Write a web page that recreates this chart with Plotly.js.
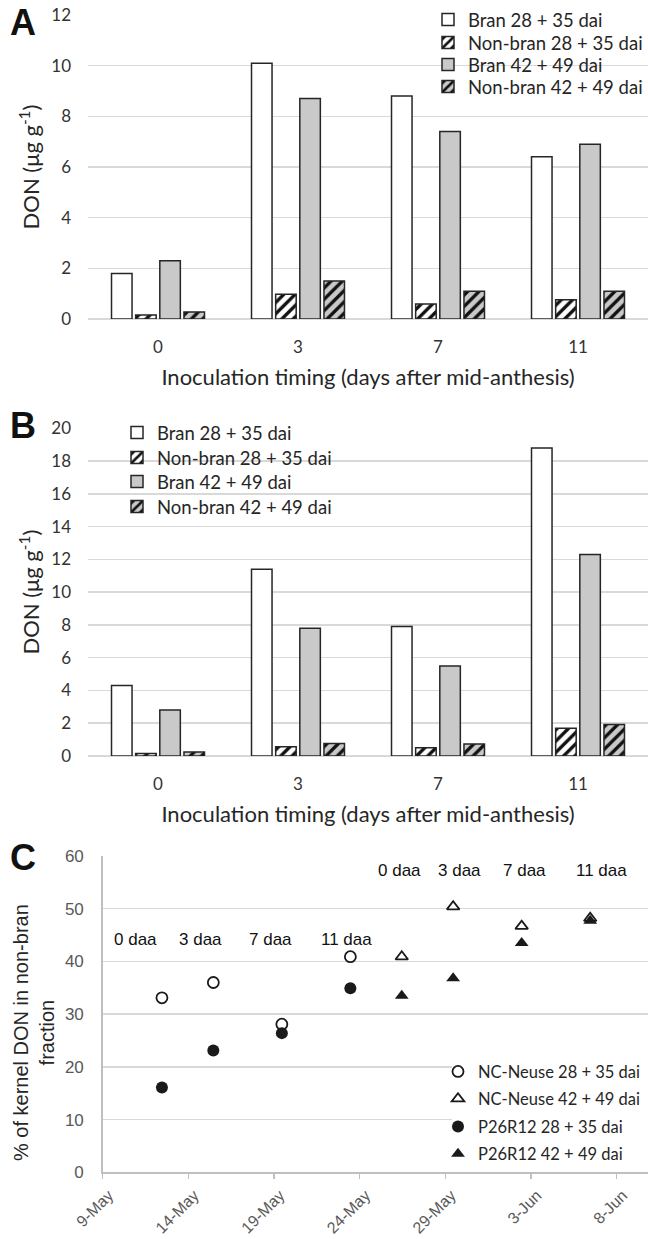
<!DOCTYPE html>
<html><head><meta charset="utf-8">
<script src="https://cdn.plot.ly/plotly-3.0.1.min.js"></script>
<style>html,body{margin:0;padding:0;background:#fff}#chart{width:648px;height:1239px}</style>
</head><body><div id="chart"></div>
<script>
const W = 648, H = 1239;

// ---------- data: panels A and B ----------
const timingLabels = ['0', '3', '7', '11'];
const barNames = ['Bran 28 + 35 dai', 'Non-bran 28 + 35 dai', 'Bran 42 + 49 dai', 'Non-bran 42 + 49 dai'];
const aBran28    = [1.8, 10.1, 8.8, 6.4];
const aNonBran28 = [0.16, 0.98, 0.59, 0.76];
const aBran42    = [2.3, 8.7, 7.4, 6.9];
const aNonBran42 = [0.28, 1.5, 1.1, 1.1];
const bBran28    = [4.3, 11.4, 7.9, 18.8];
const bNonBran28 = [0.16, 0.57, 0.5, 1.7];
const bBran42    = [2.8, 7.8, 5.5, 12.3];
const bNonBran42 = [0.24, 0.77, 0.73, 1.93];

// ---------- data: panel C ----------
const cNames = ['NC-Neuse 28 + 35 dai', 'NC-Neuse 42 + 49 dai', 'P26R12 28 + 35 dai', 'P26R12 42 + 49 dai'];
const cDates28 = ['2014-05-12 11:00', '2014-05-15 11:00', '2014-05-19 11:00', '2014-05-23 11:00'];
const cDates42 = ['2014-05-26 11:00', '2014-05-29 11:00', '2014-06-02 11:00', '2014-06-06 11:00'];
const cNCNeuse28 = [33.1, 36.0, 28.1, 40.9];
const cNCNeuse42 = [40.9, 50.4, 46.7, 48.2];
const cP26R12_28 = [16.1, 23.1, 26.4, 34.9];
const cP26R12_42 = [33.5, 36.8, 43.5, 47.7];
const daaLabels = ['0 daa', '3 daa', '7 daa', '11 daa'];
const xTitle = 'Inoculation timing (days after mid-anthesis)';
const yTitleAB = 'DON (μg g<sup>-1</sup>)';
const yTitleC = '% of kernel DON in non-bran<br>fraction';

// ---------- styles ----------
const CAL = 'Lato, "Open Sans", sans-serif';
const ARI = '"Liberation Sans", Arial, sans-serif';
const GRAY = '#c9c9c9';
const EDGE = {color: '#262626', width: 1.5};
const barStyles = [
  {color: '#ffffff', line: EDGE},
  {color: '#ffffff', line: EDGE, pattern: {shape: '/', bgcolor: '#ffffff', fgcolor: '#111111', size: 8, solidity: 0.42}},
  {color: GRAY, line: EDGE},
  {color: GRAY, line: EDGE, pattern: {shape: '/', bgcolor: GRAY, fgcolor: '#111111', size: 8, solidity: 0.42}}
];

function legendBox(leftPx, yPx, font) {
  return {x: leftPx / W, y: 1 - yPx / H, xanchor: 'left', yanchor: 'middle',
          bgcolor: 'rgba(0,0,0,0)', borderwidth: 0, font: font, itemwidth: 30};
}

const traces = [];
const aSeries = [aBran28, aNonBran28, aBran42, aNonBran42];
const bSeries = [bBran28, bNonBran28, bBran42, bNonBran42];
aSeries.forEach((vals, i) => traces.push({
  type: 'bar', x: timingLabels, y: vals, name: barNames[i], xaxis: 'x', yaxis: 'y',
  marker: barStyles[i], legend: i === 0 ? 'legend' : 'legend' + (i + 1), hoverinfo: 'y'
}));
bSeries.forEach((vals, i) => traces.push({
  type: 'bar', x: timingLabels, y: vals, name: barNames[i], xaxis: 'x2', yaxis: 'y2',
  marker: barStyles[i], legend: 'legend' + (i + 5), hoverinfo: 'y'
}));
const cSeries = [
  {x: cDates28, y: cNCNeuse28, marker: {symbol: 'circle', size: 11, color: '#ffffff', line: {color: '#1a1a1a', width: 1.8}}},
  {x: cDates42, y: cNCNeuse42, marker: {symbol: 'triangle-up', size: 11, color: '#ffffff', line: {color: '#1a1a1a', width: 1.8}}},
  {x: cDates28, y: cP26R12_28, marker: {symbol: 'circle', size: 12, color: '#1a1a1a', line: {width: 0}}},
  {x: cDates42, y: cP26R12_42, marker: {symbol: 'triangle-up', size: 12, color: '#1a1a1a', line: {width: 0}}}
];
cSeries.forEach((s, i) => traces.push({
  type: 'scatter', mode: 'markers', x: s.x, y: s.y, name: cNames[i], xaxis: 'x3', yaxis: 'y3',
  marker: s.marker, legend: 'legend' + (i + 9)
}));

// legend geometry
const legA = [20, 43, 65, 87], legB = [433, 458, 482, 507], legC = [1071.7, 1099, 1126.7, 1154];
const fontLegAB = {family: CAL, size: 18.5, color: '#262626'};
const fontLegC = {family: CAL, size: 16.5, color: '#262626'};

const tickFontAB = {family: CAL, size: 17, color: '#333333'};
const titleFontAB = {family: CAL, size: 22, color: '#262626'};

function catAxis() {
  return {
    domain: [88 / W, 1], type: 'category', showgrid: false, showline: false, zeroline: false,
    ticks: '', tickfont: tickFontAB, ticklabelstandoff: 16,
    title: {text: xTitle, font: titleFontAB, standoff: 13}
  };
}
function valAxis(domain, max) {
  return {
    domain: domain, range: [0, max], dtick: 2, tick0: 0, showgrid: true, gridcolor: '#d9d9d9', gridwidth: 1.5,
    zeroline: true, zerolinecolor: '#d9d9d9', zerolinewidth: 1.5, showline: false, ticks: '',
    tickfont: tickFontAB, ticklabelstandoff: 16,
    title: {text: yTitleAB, font: titleFontAB, standoff: 5}
  };
}

const layout = {
  width: W, height: H, margin: {l: 0, r: 0, t: 0, b: 0, autoexpand: false},
  paper_bgcolor: '#ffffff', plot_bgcolor: 'rgba(0,0,0,0)',
  barmode: 'group', bargap: 0.31, bargroupgap: 0.15, showlegend: true, hovermode: false,
  xaxis: Object.assign(catAxis(), {anchor: 'y'}),
  yaxis: Object.assign(valAxis([1 - 319 / H, 1 - 15 / H], 12), {anchor: 'x'}),
  xaxis2: Object.assign(catAxis(), {anchor: 'y2'}),
  yaxis2: Object.assign(valAxis([1 - 756 / H, 1 - 428.3 / H], 20), {anchor: 'x2'}),
  xaxis3: {
    domain: [102.7 / W, 1], anchor: 'y3', type: 'date',
    range: ['2014-05-09', '2014-06-09 20:00'], tick0: '2014-05-09', dtick: 5 * 86400000,
    tickformat: '%-d-%b', tickangle: -45, ticks: 'outside', ticklen: 5, tickwidth: 1.5, tickcolor: '#bfbfbf',
    ticklabelstandoff: 1, ticklabelshift: 6,
    showline: true, linecolor: '#bfbfbf', linewidth: 1.5, showgrid: false, zeroline: false,
    tickfont: {family: ARI, size: 16, color: '#595959'}
  },
  yaxis3: {
    domain: [1 - 1172.3 / H, 1 - 856 / H], anchor: 'x3', range: [0, 60], dtick: 10, tick0: 0,
    showgrid: true, gridcolor: '#d9d9d9', gridwidth: 1.5, zeroline: false,
    showline: true, linecolor: '#bfbfbf', linewidth: 1.5, ticks: '', ticklabelstandoff: 14,
    tickfont: {family: ARI, size: 17, color: '#595959'}
  },
  annotations: [],
  shapes: [
    // white legend background of panel C (covers the gridlines behind the legend; no data there)
    {type: 'rect', xref: 'paper', yref: 'paper', x0: 452 / W, x1: 1,
     y0: 1 - 1168 / H, y1: 1 - 1055 / H, fillcolor: '#ffffff', line: {width: 0}, layer: 'above'}
  ]
};

// legends: one per entry, for exact row spacing
for (let i = 0; i < 4; i++) {
  layout[i === 0 ? 'legend' : 'legend' + (i + 1)] = legendBox(428, legA[i], fontLegAB);
  layout['legend' + (i + 5)] = legendBox(117, legB[i], fontLegAB);
  layout['legend' + (i + 9)] = legendBox(438, legC[i], fontLegC);
}

// panel letters
[['A', 23], ['B', 425], ['C', 857]].forEach(([t, y]) => layout.annotations.push({
  text: '<b>' + t + '</b>', xref: 'paper', yref: 'paper', x: 23 / W, y: 1 - y / H,
  xanchor: 'center', yanchor: 'middle', showarrow: false, font: {family: ARI, size: 36, color: '#111111'}
}));

// daa labels in panel C
const daaPos1 = ['2014-05-10 21:40', '2014-05-14 17:30', '2014-05-18 19:30', '2014-05-23 06:00'];
const daaPos2 = ['2014-05-26 08:00', '2014-05-29 20:30', '2014-06-02 15:30', '2014-06-07 02:30'];
daaLabels.forEach((t, i) => {
  layout.annotations.push({text: t, xref: 'x3', yref: 'y3', x: daaPos1[i], y: 44.2, showarrow: false,
    xanchor: 'center', yanchor: 'middle', font: {family: ARI, size: 17, color: '#111111'}});
  layout.annotations.push({text: t, xref: 'x3', yref: 'y3', x: daaPos2[i], y: 57.2, showarrow: false,
    xanchor: 'center', yanchor: 'middle', font: {family: ARI, size: 17, color: '#111111'}});
});

// panel C y-axis title
layout.annotations.push({
  text: yTitleC, xref: 'paper', yref: 'paper', x: 34 / W, y: 1 - 1033 / H, textangle: -90,
  xanchor: 'center', yanchor: 'middle', showarrow: false, align: 'center',
  font: {family: ARI, size: 20, color: '#262626'}
});

Plotly.newPlot('chart', traces, layout, {staticPlot: true, displayModeBar: false});
</script>
</body></html>
